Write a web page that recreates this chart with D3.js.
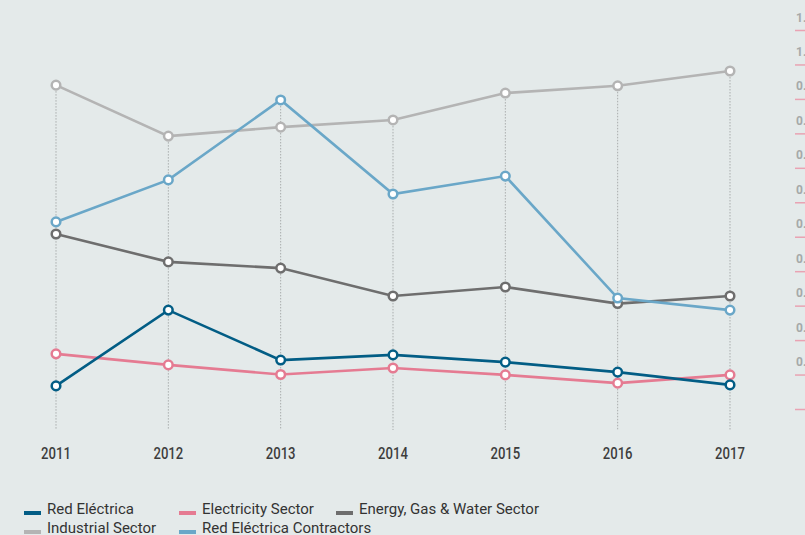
<!DOCTYPE html>
<html>
<head>
<meta charset="utf-8">
<script src="https://cdn.jsdelivr.net/npm/d3@7"></script>
<style>
  html, body { margin: 0; padding: 0; background: #e4eaea; }
  svg { display: block; }
  text { font-family: Roboto, "Noto Sans", sans-serif; }
</style>
</head>
<body>
<div id="chart"></div>
<script>
const years = ['2011', '2012', '2013', '2014', '2015', '2016', '2017'];

const redElectrica = [0.067, 0.287, 0.142, 0.157, 0.136, 0.107, 0.070];
const electricitySector = [0.160, 0.128, 0.100, 0.119, 0.099, 0.075, 0.099];
const energyGasWater = [0.508, 0.427, 0.409, 0.328, 0.354, 0.306, 0.328];
const industrialSector = [0.940, 0.792, 0.818, 0.839, 0.917, 0.938, 0.981];
const contractors = [0.543, 0.665, 0.897, 0.624, 0.676, 0.322, 0.287];

const axisTicks = [0, 0.1, 0.2, 0.3, 0.4, 0.5, 0.6, 0.7, 0.8, 0.9, 1.0, 1.1];

const series = [
  { name: 'Industrial Sector', values: industrialSector, color: '#b4b4b4' },
  { name: 'Energy, Gas & Water Sector', values: energyGasWater, color: '#6e6e6e' },
  { name: 'Red Eléctrica Contractors', values: contractors, color: '#6aa7c8' },
  { name: 'Electricity Sector', values: electricitySector, color: '#e57b92' },
  { name: 'Red Eléctrica', values: redElectrica, color: '#025d85' }
];

// legend order as in the picture
const legendOrder = ['Red Eléctrica', 'Electricity Sector', 'Energy, Gas & Water Sector',
                     'Industrial Sector', 'Red Eléctrica Contractors'];

const width = 805, height = 535;

const svg = d3.select('#chart').append('svg')
  .attr('width', width)
  .attr('height', height);

svg.append('rect').attr('width', width).attr('height', height).attr('fill', '#e4eaea');

const x = d3.scalePoint().domain(years).range([56, 730]);
const y = d3.scaleLinear().domain([0, 1.1]).range([409, 30]);

// dotted guides from the highest point of each year down to the bottom
const topOfYear = years.map((yr, i) => d3.max(series, s => s.values[i]));
svg.append('g').selectAll('line')
  .data(years)
  .enter().append('line')
  .attr('x1', d => x(d)).attr('x2', d => x(d))
  .attr('y1', (d, i) => y(topOfYear[i]))
  .attr('y2', 430)
  .attr('stroke', '#a9adad')
  .attr('stroke-width', 1)
  .attr('stroke-dasharray', '1.5,1.5');

// right axis, cut off by the edge as in the original
const yAxis = svg.append('g')
  .attr('transform', 'translate(795,0)')
  .call(d3.axisRight(y).tickValues(axisTicks).tickSize(12)
    .tickFormat(d => d === 0 ? '' : d3.format('.2f')(d)));
yAxis.select('.domain').remove();
yAxis.selectAll('.tick line').attr('stroke', '#e9a3b3').attr('stroke-width', 1.5);
yAxis.selectAll('.tick text')
  .attr('x', 1).attr('dy', -9)
  .attr('text-anchor', 'start')
  .attr('fill', '#a6a9a9')
  .attr('font-weight', 'bold')
  .attr('font-size', 12)
  .style('font-family', 'Roboto, sans-serif');

// x labels, narrowed to look condensed
svg.append('g').selectAll('text')
  .data(years)
  .enter().append('text')
  .attr('transform', d => `translate(${x(d)},459) scale(0.82,1)`)
  .attr('text-anchor', 'middle')
  .attr('font-size', 16)
  .attr('font-weight', 500)
  .attr('fill', '#3d3d3d')
  .text(d => d);

const line = d3.line()
  .x((d, i) => x(years[i]))
  .y(d => y(d));

const groups = svg.append('g').selectAll('g')
  .data(series)
  .enter().append('g');

groups.append('path')
  .attr('d', d => line(d.values))
  .attr('fill', 'none')
  .attr('stroke', d => d.color)
  .attr('stroke-width', 2.6);

groups.each(function (s) {
  d3.select(this).selectAll('circle')
    .data(s.values)
    .enter().append('circle')
    .attr('cx', (d, i) => x(years[i]))
    .attr('cy', d => y(d))
    .attr('r', 4.3)
    .attr('fill', '#fff')
    .attr('stroke', s.color)
    .attr('stroke-width', 2.5);
});

// legend
const legendPos = [[24, 509], [179, 509], [336, 509], [24, 528], [179, 528]];
const legend = svg.append('g').selectAll('g')
  .data(legendOrder)
  .enter().append('g')
  .attr('transform', (d, i) => `translate(${legendPos[i][0]},${legendPos[i][1]})`);

legend.append('rect')
  .attr('x', 0).attr('y', 2)
  .attr('width', 17).attr('height', 4)
  .attr('fill', d => series.find(s => s.name === d).color);

legend.append('text')
  .attr('x', 23)
  .attr('y', 5)
  .attr('font-size', 15)
  .attr('fill', '#333')
  .text(d => d);
</script>
</body>
</html>
